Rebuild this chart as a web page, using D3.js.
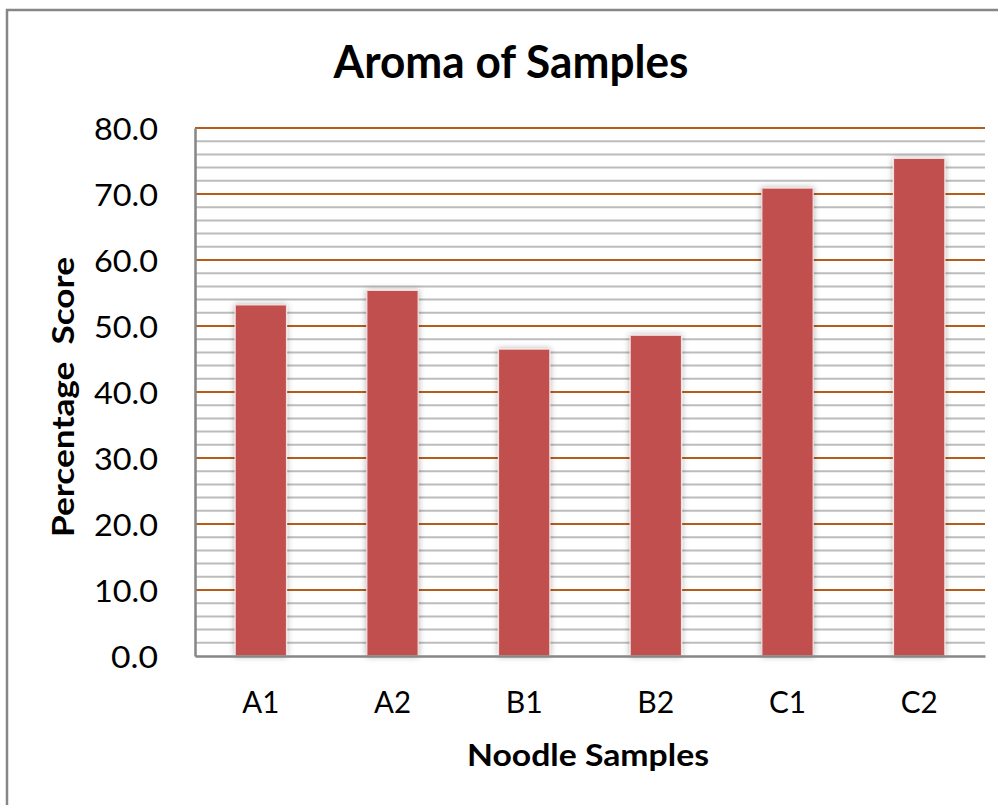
<!DOCTYPE html>
<html><head><meta charset="utf-8">
<script src="https://cdn.jsdelivr.net/npm/d3@7"></script>
<style>html,body{margin:0;padding:0;background:#fff;}svg{display:block;}</style>
</head><body>
<script>
const categories = ["A1", "A2", "B1", "B2", "C1", "C2"];
const values = [53.2, 55.4, 46.5, 48.6, 70.9, 75.4];
const yTickValues = [0, 10, 20, 30, 40, 50, 60, 70, 80];
const title = "Aroma of Samples";
const xTitle = "Noodle Samples";
const yTitle = "Percentage\u00a0\u00a0Score";

(function(){
const W = 998, H = 805;
const font = "Lato, 'Open Sans', sans-serif";
const svg = d3.select("body").append("svg").attr("width", W).attr("height", H);

const defs = svg.append("defs");
const f = defs.append("filter").attr("id", "sh").attr("x", "-30%").attr("y", "-10%").attr("width", "160%").attr("height", "120%");
f.append("feDropShadow").attr("dx", 0).attr("dy", 0).attr("stdDeviation", 3).attr("flood-color", "#000").attr("flood-opacity", 0.3);

// outer border
svg.append("rect").attr("x", 7).attr("y", 10).attr("width", 1000).attr("height", 800)
  .attr("fill", "#fff").attr("stroke", "#868686").attr("stroke-width", 2.5);

const mLeft = 195, mRight = 985, mTop = 128, mBottom = 656;
const y = d3.scaleLinear().domain([0, 80]).range([mBottom, mTop]);
const x = d3.scaleBand().domain(categories).range([mLeft, mRight]).padding(0);
const barW = x.bandwidth() * 0.39;

// minor grid
const minor = d3.range(0, 81, 2).filter(v => v % 10 !== 0);
svg.append("g").selectAll("line").data(minor).join("line")
  .attr("x1", mLeft).attr("x2", mRight).attr("y1", d => y(d)).attr("y2", d => y(d))
  .attr("stroke", "#bcbcbc").attr("stroke-width", 2);
// major grid
svg.append("g").selectAll("line").data(yTickValues.filter(v => v > 0)).join("line")
  .attr("x1", mLeft).attr("x2", mRight).attr("y1", d => y(d)).attr("y2", d => y(d))
  .attr("stroke", "#b65d1c").attr("stroke-width", 2);

// bars
svg.append("g").selectAll("rect").data(values).join("rect")
  .attr("x", (d, i) => x(categories[i]) + (x.bandwidth() - barW) / 2)
  .attr("y", d => y(d)).attr("width", barW).attr("height", d => y(0) - y(d))
  .attr("fill", "#c0504d").attr("stroke", "#f4dede").attr("stroke-width", 1.2)
  .attr("filter", "url(#sh)");

// axes
const yAxis = svg.append("g").attr("transform", `translate(${mLeft},0)`)
  .call(d3.axisLeft(y).tickValues(yTickValues).tickSize(0).tickPadding(37).tickFormat(d3.format(".1f")));
yAxis.select(".domain").attr("stroke", "#868686").attr("stroke-width", 2.5);
yAxis.selectAll("text").attr("font-family", font).attr("font-size", 31).attr("fill", "#000")
  .attr("dy", "0.36em").attr("textLength", function(d){ return d === 0 ? 47 : 64; }).attr("lengthAdjust", "spacingAndGlyphs");

const xAxis = svg.append("g").attr("transform", `translate(0,${mBottom})`)
  .call(d3.axisBottom(x).tickSize(0).tickPadding(35));
xAxis.select(".domain").attr("stroke", "#868686").attr("stroke-width", 2.5);
xAxis.selectAll("text").attr("font-family", font).attr("font-size", 31).attr("fill", "#000")
  .attr("dy", "0.71em").attr("textLength", 37).attr("lengthAdjust", "spacingAndGlyphs");

// titles
svg.append("text").attr("x", 511).attr("y", 78).attr("text-anchor", "middle")
  .attr("font-family", font).attr("font-weight", "bold").attr("font-size", 46)
  .attr("textLength", 355).attr("lengthAdjust", "spacingAndGlyphs").text(title);
svg.append("text").attr("x", 588).attr("y", 766).attr("text-anchor", "middle")
  .attr("font-family", font).attr("font-weight", "bold").attr("font-size", 30)
  .attr("textLength", 242).attr("lengthAdjust", "spacingAndGlyphs").text(xTitle);
svg.append("text").attr("transform", "translate(74,397) rotate(-90)").attr("text-anchor", "middle")
  .attr("font-family", font).attr("font-weight", "bold").attr("font-size", 30)
  .attr("textLength", 280).attr("lengthAdjust", "spacingAndGlyphs").text(yTitle);
})();
</script>
</body></html>
